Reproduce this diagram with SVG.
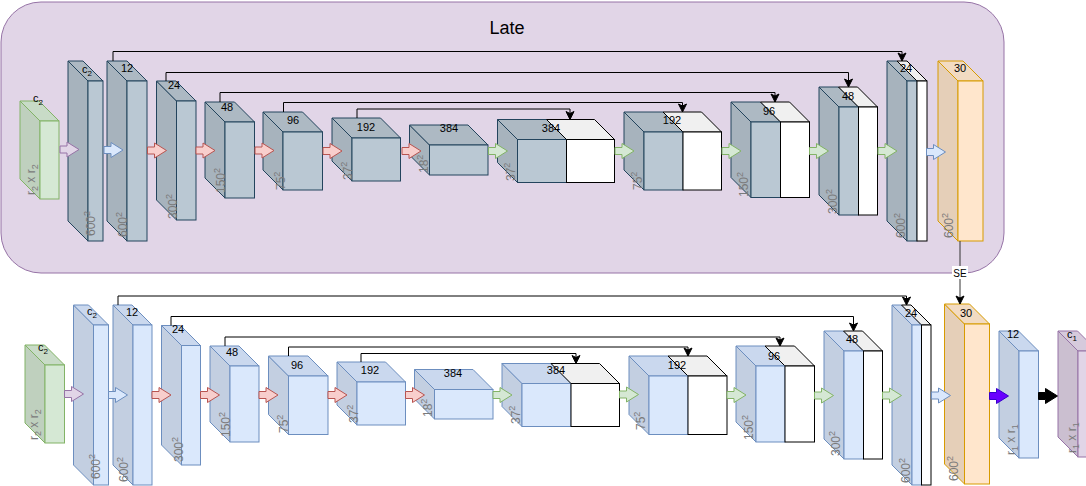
<svg xmlns="http://www.w3.org/2000/svg" xmlns:xlink="http://www.w3.org/1999/xlink" width="1086" height="486" viewBox="0 0 1086 486">
<style>
text{font-family:"Liberation Sans",Arial,sans-serif;font-size:11px;fill:#000}
.c{text-anchor:middle}
.dim{fill:#7a7a7a;font-size:12px}
.s{font-size:8px}
.dim .s{font-size:9px}
.dk polygon,.dk rect{stroke:#23445d;stroke-width:1}
.dk .fr{fill:#bac8d3}.dk .sd{fill:#a7b3bd}.dk .tp{fill:#adb9c3}
.lb polygon,.lb rect{stroke:#6c8ebf;stroke-width:1}
.lb .fr{fill:#dae8fc}.lb .sd{fill:#c3cfe1}.lb .tp{fill:#cad8ee}
.gr polygon,.gr rect{stroke:#82b366;stroke-width:1}
.gr .fr{fill:#d5e8d4}.gr .sd{fill:#bfd0be}.gr .tp{fill:#c8dbc7}
.or polygon,.or rect{stroke:#d79b00;stroke-width:1}
.or .fr{fill:#ffe6cc}.or .sd{fill:#e5cfb8}.or .tp{fill:#f2dbc2}
.pu polygon,.pu rect{stroke:#9673a6;stroke-width:1}
.pu .fr{fill:#e1d5e7}.pu .sd{fill:#cbbfd0}.pu .tp{fill:#d6cadc}
polygon.wt,rect.wt{fill:#ffffff;stroke:#000 !important}
polygon.wtp{fill:#f0f0f0;stroke:#000 !important}
.aP{fill:#e1d5e7;stroke:#9673a6}
.aB{fill:#dae8fc;stroke:#6c8ebf}
.aR{fill:#f8cecc;stroke:#b85450}
.aG{fill:#d5e8d4;stroke:#82b366}
.aV{fill:#6a00ff;stroke:#3700cc}
.aK{fill:#000;stroke:#000}
.ln{fill:none;stroke:#000;stroke-width:1;marker-end:url(#ah)}
</style>
<defs>
<marker id="ah" markerUnits="userSpaceOnUse" markerWidth="10" markerHeight="10" viewBox="0 0 10 10" refX="9" refY="5" orient="auto">
<path d="M1,1 L9,5 L1,9 L3,5 Z" fill="#000" stroke="#000" stroke-width="1"/>
</marker>
<path id="blk" d="M0,-3.5 H7 V-7.5 L19,0 L7,7.5 V3.5 H0 Z" stroke-width="1"/>
</defs>

<g id="late-box">
<rect x="1" y="2" width="1003" height="271" rx="40" ry="40" fill="#e1d5e7" stroke="#9673a6" stroke-width="1"/>
<text x="507" y="34" class="c" style="font-size:18px">Late</text>
</g>

<!-- TOP ROW -->
<g id="t0" class="gr">
<polygon class="sd" points="20,101 40,121 40,199 20,179"/>
<polygon class="tp" points="20,101 39,101 59,121 40,121"/>
<rect class="fr" x="40" y="121" width="19" height="78"/>
<text x="33" y="102">c<tspan class="s" dy="3">2</tspan></text>
<text class="dim" transform="translate(35,195) rotate(-90)">r<tspan class="s" dy="3">2</tspan><tspan dy="-3"> x r</tspan><tspan class="s" dy="3">2</tspan></text>
</g>
<g id="t1" class="dk">
<polygon class="sd" points="68,61 88,81 88,241 68,221"/>
<polygon class="tp" points="68,61 83,61 103,81 88,81"/>
<rect class="fr" x="88" y="81" width="15" height="160"/>
<text x="82" y="73">c<tspan class="s" dy="3">2</tspan></text>
<text class="dim" transform="translate(95,236) rotate(-90)">600<tspan class="s" dy="-5">2</tspan></text>
</g>
<g id="t2" class="dk">
<polygon class="sd" points="107,61 127,81 127,241 107,221"/>
<polygon class="tp" points="107,61 127,61 147,81 127,81"/>
<rect class="fr" x="127" y="81" width="20" height="160"/>
<text x="127" y="72" class="c">12</text>
<text class="dim" transform="translate(127,237) rotate(-90)">600<tspan class="s" dy="-5">2</tspan></text>
</g>
<g id="t3" class="dk">
<polygon class="sd" points="156.5,81 176.5,101 176.5,220 156.5,200"/>
<polygon class="tp" points="156.5,81 176,81 196,101 176.5,101"/>
<rect class="fr" x="176.5" y="101" width="19.5" height="119"/>
<text x="174" y="89" class="c">24</text>
<text class="dim" transform="translate(177,219) rotate(-90)">300<tspan class="s" dy="-5">2</tspan></text>
</g>
<g id="t4" class="dk">
<polygon class="sd" points="205,102 225,122 225,198 205,178"/>
<polygon class="tp" points="205,102 234.5,102 254.5,122 225,122"/>
<rect class="fr" x="225" y="122" width="29.5" height="76"/>
<text x="227" y="111" class="c">48</text>
<text class="dim" transform="translate(225,193) rotate(-90)">150<tspan class="s" dy="-5">2</tspan></text>
</g>
<g id="t5" class="dk">
<polygon class="sd" points="263,112 283,132 283,190 263,170"/>
<polygon class="tp" points="263,112 302.5,112 322.5,132 283,132"/>
<rect class="fr" x="283" y="132" width="39.5" height="58"/>
<text x="293" y="124" class="c">96</text>
<text class="dim" transform="translate(285,190) rotate(-90)">75<tspan class="s" dy="-5">2</tspan></text>
</g>
<g id="t6" class="dk">
<polygon class="sd" points="332,118 352,138 352,181 332,161"/>
<polygon class="tp" points="332,118 380.5,118 400.5,138 352,138"/>
<rect class="fr" x="352" y="138" width="48.5" height="43"/>
<text x="366" y="131" class="c">192</text>
<text class="dim" transform="translate(352,180) rotate(-90)">37<tspan class="s" dy="-5">2</tspan></text>
</g>
<g id="t7" class="dk">
<polygon class="sd" points="409.5,125 429.5,145 429.5,175 409.5,155"/>
<polygon class="tp" points="409.5,125 468,125 488,145 429.5,145"/>
<rect class="fr" x="429.5" y="145" width="58.5" height="30"/>
<text x="449" y="132" class="c">384</text>
<text class="dim" transform="translate(428,173) rotate(-90)">18<tspan class="s" dy="-5">2</tspan></text>
</g>
<g id="t8" class="dk">
<polygon class="sd" points="497.5,119.5 517.5,139.5 517.5,182.5 497.5,162.5"/>
<polygon class="tp" points="497.5,119.5 546.5,119.5 566.5,139.5 517.5,139.5"/>
<polygon class="wtp" points="546.5,119.5 594.5,119.5 614.5,139.5 566.5,139.5"/>
<rect class="fr" x="517.5" y="139.5" width="49" height="43"/>
<rect class="wt" x="566.5" y="139.5" width="48" height="43"/>
<text x="551" y="132" class="c">384</text>
<text class="dim" transform="translate(515,181) rotate(-90)">37<tspan class="s" dy="-5">2</tspan></text>
</g>
<g id="t9" class="dk">
<polygon class="sd" points="624,112 644,132 644,190 624,170"/>
<polygon class="tp" points="624,112 663,112 683,132 644,132"/>
<polygon class="wtp" points="663,112 701.5,112 721.5,132 683,132"/>
<rect class="fr" x="644" y="132" width="39" height="58"/>
<rect class="wt" x="683" y="132" width="38.5" height="58"/>
<text x="672" y="124" class="c">192</text>
<text class="dim" transform="translate(642,190) rotate(-90)">75<tspan class="s" dy="-5">2</tspan></text>
</g>
<g id="t10" class="dk">
<polygon class="sd" points="731,102 751,122 751,197.5 731,177.5"/>
<polygon class="tp" points="731,102 760.5,102 780.5,122 751,122"/>
<polygon class="wtp" points="760.5,102 789.5,102 809.5,122 780.5,122"/>
<rect class="fr" x="751" y="122" width="29.5" height="75.5"/>
<rect class="wt" x="780.5" y="122" width="29" height="75.5"/>
<text x="769" y="115" class="c">96</text>
<text class="dim" transform="translate(748,197) rotate(-90)">150<tspan class="s" dy="-5">2</tspan></text>
</g>
<g id="t11" class="dk">
<polygon class="sd" points="819,87 839,107 839,215 819,195"/>
<polygon class="tp" points="819,87 838.5,87 858.5,107 839,107"/>
<polygon class="wtp" points="838.5,87 857.5,87 877.5,107 858.5,107"/>
<rect class="fr" x="839" y="107" width="19.5" height="108"/>
<rect class="wt" x="858.5" y="107" width="19" height="108"/>
<text x="848" y="100" class="c">48</text>
<text class="dim" transform="translate(837,214) rotate(-90)">300<tspan class="s" dy="-5">2</tspan></text>
</g>
<g id="t12" class="dk">
<polygon class="sd" points="887,61 907,81 907,241 887,221"/>
<polygon class="tp" points="887,61 897,61 917,81 907,81"/>
<polygon class="wtp" points="897,61 907,61 927,81 917,81"/>
<rect class="fr" x="907" y="81" width="10" height="160"/>
<rect class="wt" x="917" y="81" width="10" height="160"/>
<text x="906" y="72" class="c">24</text>
<text class="dim" transform="translate(905,238) rotate(-90)">600<tspan class="s" dy="-5">2</tspan></text>
</g>
<g id="t13" class="or">
<polygon class="sd" points="938,61 958,81 958,241 938,221"/>
<polygon class="tp" points="938,61 963,61 983,81 958,81"/>
<rect class="fr" x="958" y="81" width="25" height="160"/>
<text x="960" y="72" class="c">30</text>
<text class="dim" transform="translate(953,238) rotate(-90)">600<tspan class="s" dy="-5">2</tspan></text>
</g>

<!-- BOTTOM ROW -->
<g id="b0" class="gr">
<polygon class="sd" points="25,345 45,365 45,443 25,423"/>
<polygon class="tp" points="25,345 44.5,345 64.5,365 45,365"/>
<rect class="fr" x="45" y="365" width="19.5" height="78"/>
<text x="38" y="351">c<tspan class="s" dy="3">2</tspan></text>
<text class="dim" transform="translate(38,440) rotate(-90)">r<tspan class="s" dy="3">2</tspan><tspan dy="-3"> x r</tspan><tspan class="s" dy="3">2</tspan></text>
</g>
<g id="b1" class="lb">
<polygon class="sd" points="73.5,305 93.5,325 93.5,485 73.5,465"/>
<polygon class="tp" points="73.5,305 88.5,305 108.5,325 93.5,325"/>
<rect class="fr" x="93.5" y="325" width="15" height="160"/>
<text x="87" y="315">c<tspan class="s" dy="3">2</tspan></text>
<text class="dim" transform="translate(100,479) rotate(-90)">600<tspan class="s" dy="-5">2</tspan></text>
</g>
<g id="b2" class="lb">
<polygon class="sd" points="113,305 133,325 133,485 113,465"/>
<polygon class="tp" points="113,305 132,305 152,325 133,325"/>
<rect class="fr" x="133" y="325" width="19" height="160"/>
<text x="132" y="316" class="c">12</text>
<text class="dim" transform="translate(128,482) rotate(-90)">600<tspan class="s" dy="-5">2</tspan></text>
</g>
<g id="b3" class="lb">
<polygon class="sd" points="161.5,325.5 181.5,345.5 181.5,465 161.5,445"/>
<polygon class="tp" points="161.5,325.5 180.5,325.5 200.5,345.5 181.5,345.5"/>
<rect class="fr" x="181.5" y="345.5" width="19" height="119.5"/>
<text x="178" y="333" class="c">24</text>
<text class="dim" transform="translate(183,462) rotate(-90)">300<tspan class="s" dy="-5">2</tspan></text>
</g>
<g id="b4" class="lb">
<polygon class="sd" points="210,346 230,366 230,442 210,422"/>
<polygon class="tp" points="210,346 239,346 259,366 230,366"/>
<rect class="fr" x="230" y="366" width="29" height="76"/>
<text x="232" y="356" class="c">48</text>
<text class="dim" transform="translate(230,437) rotate(-90)">150<tspan class="s" dy="-5">2</tspan></text>
</g>
<g id="b5" class="lb">
<polygon class="sd" points="268.5,356 288.5,376 288.5,434.5 268.5,414.5"/>
<polygon class="tp" points="268.5,356 308,356 328,376 288.5,376"/>
<rect class="fr" x="288.5" y="376" width="39.5" height="58.5"/>
<text x="297" y="369" class="c">96</text>
<text class="dim" transform="translate(288,433) rotate(-90)">75<tspan class="s" dy="-5">2</tspan></text>
</g>
<g id="b6" class="lb">
<polygon class="sd" points="337,362 357,382 357,425 337,405"/>
<polygon class="tp" points="337,362 385.5,362 405.5,382 357,382"/>
<rect class="fr" x="357" y="382" width="48.5" height="43"/>
<text x="370" y="374" class="c">192</text>
<text class="dim" transform="translate(358,423) rotate(-90)">37<tspan class="s" dy="-5">2</tspan></text>
</g>
<g id="b7" class="lb">
<polygon class="sd" points="414.5,369.5 434.5,389.5 434.5,419 414.5,399"/>
<polygon class="tp" points="414.5,369.5 473,369.5 493,389.5 434.5,389.5"/>
<rect class="fr" x="434.5" y="389.5" width="58.5" height="29.5"/>
<text x="453" y="377" class="c">384</text>
<text class="dim" transform="translate(432,417) rotate(-90)">18<tspan class="s" dy="-5">2</tspan></text>
</g>
<g id="b8" class="lb">
<polygon class="sd" points="502,363.5 522,383.5 522,426.5 502,406.5"/>
<polygon class="tp" points="502,363.5 551,363.5 571,383.5 522,383.5"/>
<polygon class="wtp" points="551,363.5 599.5,363.5 619.5,383.5 571,383.5"/>
<rect class="fr" x="522" y="383.5" width="49" height="43"/>
<rect class="wt" x="571" y="383.5" width="48.5" height="43"/>
<text x="556" y="374" class="c">384</text>
<text class="dim" transform="translate(520,424) rotate(-90)">37<tspan class="s" dy="-5">2</tspan></text>
</g>
<g id="b9" class="lb">
<polygon class="sd" points="629,356 649,376 649,434.5 629,414.5"/>
<polygon class="tp" points="629,356 668,356 688,376 649,376"/>
<polygon class="wtp" points="668,356 707,356 727,376 688,376"/>
<rect class="fr" x="649" y="376" width="39" height="58.5"/>
<rect class="wt" x="688" y="376" width="39" height="58.5"/>
<text x="677" y="369" class="c">192</text>
<text class="dim" transform="translate(645,430) rotate(-90)">75<tspan class="s" dy="-5">2</tspan></text>
</g>
<g id="b10" class="lb">
<polygon class="sd" points="736,346 756,366 756,442 736,422"/>
<polygon class="tp" points="736,346 765,346 785,366 756,366"/>
<polygon class="wtp" points="765,346 794.5,346 814.5,366 785,366"/>
<rect class="fr" x="756" y="366" width="29" height="76"/>
<rect class="wt" x="785" y="366" width="29.5" height="76"/>
<text x="774" y="360" class="c">96</text>
<text class="dim" transform="translate(753,440) rotate(-90)">150<tspan class="s" dy="-5">2</tspan></text>
</g>
<g id="b11" class="lb">
<polygon class="sd" points="824,331 844,351 844,459 824,439"/>
<polygon class="tp" points="824,331 843.5,331 863.5,351 844,351"/>
<polygon class="wtp" points="843.5,331 862.5,331 882.5,351 863.5,351"/>
<rect class="fr" x="844" y="351" width="19.5" height="108"/>
<rect class="wt" x="863.5" y="351" width="19" height="108"/>
<text x="852" y="343" class="c">48</text>
<text class="dim" transform="translate(840,456) rotate(-90)">300<tspan class="s" dy="-5">2</tspan></text>
</g>
<g id="b12" class="lb">
<polygon class="sd" points="892,305 912,325 912,485 892,465"/>
<polygon class="tp" points="892,305 901.5,305 921.5,325 912,325"/>
<polygon class="wtp" points="901.5,305 911,305 931,325 921.5,325"/>
<rect class="fr" x="912" y="325" width="9.5" height="160"/>
<rect class="wt" x="921.5" y="325" width="9.5" height="160"/>
<text x="911" y="317" class="c">24</text>
<text class="dim" transform="translate(910,483) rotate(-90)">600<tspan class="s" dy="-5">2</tspan></text>
</g>
<g id="b13" class="or">
<polygon class="sd" points="944.5,304 964.5,324 964.5,484 944.5,464"/>
<polygon class="tp" points="944.5,304 969.5,304 989.5,324 964.5,324"/>
<rect class="fr" x="964.5" y="324" width="25" height="160"/>
<text x="966" y="317" class="c">30</text>
<text class="dim" transform="translate(958,481) rotate(-90)">600<tspan class="s" dy="-5">2</tspan></text>
</g>
<g id="b14" class="lb">
<polygon class="sd" points="999,331 1019,351 1019,458 999,438"/>
<polygon class="tp" points="999,331 1018.5,331 1038.5,351 1019,351"/>
<rect class="fr" x="1019" y="351" width="19.5" height="107"/>
<text x="1013" y="338" class="c">12</text>
<text class="dim" transform="translate(1015,455) rotate(-90)">r<tspan class="s" dy="3">1</tspan><tspan dy="-3"> x r</tspan><tspan class="s" dy="3">1</tspan></text>
</g>
<g id="b15" class="pu">
<polygon class="sd" points="1058,331 1078,351 1078,457 1058,437"/>
<polygon class="tp" points="1058,331 1077.5,331 1097.5,351 1078,351"/>
<rect class="fr" x="1078" y="351" width="19.5" height="106"/>
<text x="1067" y="338">c<tspan class="s" dy="3">1</tspan></text>
<text class="dim" transform="translate(1076,453) rotate(-90)">r<tspan class="s" dy="3">1</tspan><tspan dy="-3"> x r</tspan><tspan class="s" dy="3">1</tspan></text>
</g>

<g id="connectors">
<!-- block arrows top -->
<use xlink:href="#blk" href="#blk" class="aP" x="60" y="149.5"/>
<use xlink:href="#blk" href="#blk" class="aB" x="104" y="150"/>
<use xlink:href="#blk" href="#blk" class="aR" x="147.5" y="150.5"/>
<use xlink:href="#blk" href="#blk" class="aR" x="196" y="150.5"/>
<use xlink:href="#blk" href="#blk" class="aR" x="255" y="150.5"/>
<use xlink:href="#blk" href="#blk" class="aR" x="323" y="151"/>
<use xlink:href="#blk" href="#blk" class="aR" x="402" y="151"/>
<use xlink:href="#blk" href="#blk" class="aG" x="488.5" y="151"/>
<use xlink:href="#blk" href="#blk" class="aG" x="615" y="151"/>
<use xlink:href="#blk" href="#blk" class="aG" x="722" y="151"/>
<use xlink:href="#blk" href="#blk" class="aG" x="809.5" y="151"/>
<use xlink:href="#blk" href="#blk" class="aG" x="878" y="151"/>
<use xlink:href="#blk" href="#blk" class="aB" x="926.5" y="152"/>
<!-- block arrows bottom -->
<use xlink:href="#blk" href="#blk" class="aP" x="64.5" y="394"/>
<use xlink:href="#blk" href="#blk" class="aB" x="108.5" y="395"/>
<use xlink:href="#blk" href="#blk" class="aR" x="152" y="395"/>
<use xlink:href="#blk" href="#blk" class="aR" x="200.5" y="395"/>
<use xlink:href="#blk" href="#blk" class="aR" x="259" y="395"/>
<use xlink:href="#blk" href="#blk" class="aR" x="328" y="395"/>
<use xlink:href="#blk" href="#blk" class="aR" x="405.5" y="395"/>
<use xlink:href="#blk" href="#blk" class="aG" x="493" y="395"/>
<use xlink:href="#blk" href="#blk" class="aG" x="619.5" y="394.5"/>
<use xlink:href="#blk" href="#blk" class="aG" x="727" y="395"/>
<use xlink:href="#blk" href="#blk" class="aG" x="814.5" y="395.5"/>
<use xlink:href="#blk" href="#blk" class="aG" x="882.5" y="395.5"/>
<use xlink:href="#blk" href="#blk" class="aB" x="931.5" y="395.5"/>
<use xlink:href="#blk" href="#blk" class="aV" x="989.5" y="396"/>
<use xlink:href="#blk" href="#blk" class="aK" x="1038.5" y="396"/>
<!-- skip connections top -->
<path class="ln" d="M113,61 V51.5 H902 V61"/>
<path class="ln" d="M166,81 V72.5 H848.5 V87"/>
<path class="ln" d="M220,102 V92.5 H775 V102"/>
<path class="ln" d="M283.5,112 V102.5 H682.5 V112"/>
<path class="ln" d="M357,118 V109 H570 V119.5"/>
<!-- skip connections bottom -->
<path class="ln" d="M118,305 V296 H906.5 V305"/>
<path class="ln" d="M171,325.5 V316.5 H853.5 V331"/>
<path class="ln" d="M225,346 V337 H780 V346"/>
<path class="ln" d="M288.5,356 V347 H688 V356"/>
<path class="ln" d="M361,362 V353.5 H576 V363.5"/>
<!-- SE -->
<path class="ln" d="M960,241 V304" style="stroke:#333"/>
<rect x="952" y="266" width="16" height="13" fill="#fff"/>
<text x="960" y="277" class="c" style="font-size:10px">SE</text>
</g>
</svg>
